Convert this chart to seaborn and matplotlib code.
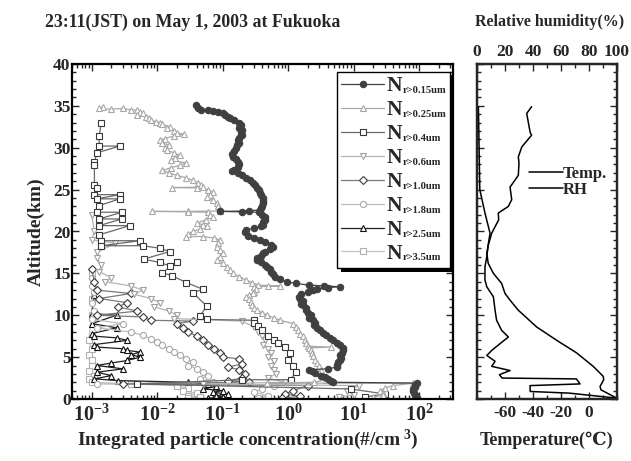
import numpy as np
import pandas as pd
import matplotlib
matplotlib.use("Agg")
import matplotlib.pyplot as plt
import seaborn as sns
from matplotlib.patches import Rectangle
from matplotlib.ticker import MultipleLocator, NullFormatter

sns.set_style("ticks")
plt.rcParams['font.family'] = ['Liberation Serif', 'DejaVu Serif', 'Noto Sans CJK JP']
plt.rcParams['font.weight'] = 'bold'
plt.rcParams['axes.unicode_minus'] = False
plt.rcParams['mathtext.fontset'] = 'custom'
plt.rcParams['mathtext.rm'] = 'Liberation Serif:bold'
plt.rcParams['mathtext.bf'] = 'Liberation Serif:bold'
plt.rcParams['mathtext.it'] = 'Liberation Serif:bold:italic'

# ---------------- data ----------------
alt_015 = [35.1, 34.8, 34.5, 34.5, 34.4, 34.3, 34.1, 33.9, 33.7, 33.5, 33.3, 33.0, 32.7, 32.4, 32.1,
           31.8, 31.5, 31.2, 30.9, 30.6, 30.3, 30.0, 29.6, 29.2, 28.9, 28.6, 28.3, 28.0, 27.7, 27.4,
           27.2, 27.0, 26.7, 26.4, 26.1, 25.8, 25.5, 25.2, 24.9, 24.6, 24.3, 24.0, 23.7, 23.4, 23.1,
           22.8, 22.6, 22.45, 22.4, 22.35, 22.3, 22.0, 21.7, 21.4, 21.1, 20.8, 20.6, 20.4, 20.2, 19.9,
           19.5, 19.2, 19.0, 18.7, 18.4, 18.2, 17.9, 17.6, 17.4, 17.1, 16.8, 16.6, 16.3, 16.0, 15.8,
           15.5, 15.2, 14.9, 14.6, 14.3, 14.0, 13.8, 13.6, 13.5, 13.4, 13.3, 13.1, 13.0, 12.8, 12.5,
           12.2, 12.0, 11.7, 11.4, 11.2, 10.9, 10.6, 10.3, 10.0, 9.7, 9.4, 9.1, 8.8, 8.5, 8.2,
           7.9, 7.6, 7.3, 7.0, 6.7, 6.4, 6.1, 5.8, 5.5, 5.2, 4.9, 4.7, 4.4, 4.1, 3.8,
           3.6, 3.5, 3.3, 3.1, 2.8, 2.6, 2.4, 2.2, 2.0, 1.9, 1.7, 1.4, 1.2, 1.0, 0.7,
           0.5, 0.3, 0.1]
n_015 = [0.039, 0.042, 0.047, 0.060, 0.070, 0.085, 0.10, 0.11, 0.12, 0.13, 0.15, 0.18, 0.19, 0.18, 0.20,
         0.19, 0.20, 0.18, 0.17, 0.18, 0.165, 0.16, 0.15, 0.14, 0.145, 0.16, 0.17, 0.18, 0.17, 0.15,
         0.14, 0.17, 0.20, 0.23, 0.26, 0.29, 0.31, 0.33, 0.36, 0.37, 0.39, 0.41, 0.42, 0.42, 0.40,
         0.38, 0.37, 0.25, 0.09, 0.20, 0.36, 0.40, 0.45, 0.44, 0.42, 0.41, 0.38, 0.30, 0.23, 0.22,
         0.24, 0.30, 0.37, 0.45, 0.55, 0.59, 0.52, 0.45, 0.42, 0.38, 0.34, 0.33, 0.38, 0.44, 0.48,
         0.52, 0.55, 0.58, 0.62, 0.75, 0.95, 1.3, 2.1, 3.5, 6.2, 4.0, 2.8, 2.4, 2.0, 1.6,
         1.45, 1.5, 1.7, 1.6, 1.7, 1.85, 1.9, 2.0, 2.2, 2.1, 2.4, 2.6, 2.5, 2.8, 3.1,
         3.4, 3.8, 4.3, 4.9, 5.5, 6.3, 6.9, 7.0, 6.6, 6.3, 6.5, 6.2, 5.8, 5.6, 5.5,
         4.0, 2.1, 2.3, 2.6, 3.2, 3.6, 4.0, 4.5, 4.9, 93, 88, 86, 80, 82, 85,
         88, 90, 92]

alt_025 = [34.9, 34.7, 34.6, 34.7, 34.5, 34.5, 34.3, 34.1, 33.9, 33.7, 33.5, 33.3, 33.1, 33.0, 32.8,
           32.5, 32.3, 32.0, 31.8, 31.6, 31.4, 31.1, 30.9, 30.6, 30.3, 30.0, 29.7, 29.4, 29.1, 28.8,
           28.5, 28.2, 27.9, 27.6, 27.3, 27.0, 26.7, 26.4, 26.1, 25.8, 25.5, 25.3, 25.25, 25.2, 25.0,
           24.7, 24.4, 24.1, 23.8, 23.4, 23.0, 22.7, 22.45, 22.4, 22.4, 22.35, 22.3, 22.0, 21.7, 21.4,
           21.0, 20.8, 20.6, 20.3, 20.0, 19.7, 19.4, 19.4, 19.2, 19.0, 18.6, 18.2, 17.8, 17.4, 17.0,
           16.6, 16.2, 15.8, 15.4, 15.0, 14.6, 14.2, 13.9, 13.6, 13.5, 13.45, 13.4, 13.1, 12.8, 12.6,
           12.4, 12.2, 11.9, 11.6, 11.2, 10.9, 10.6, 10.3, 10.0, 9.7, 9.4, 9.0, 8.6, 8.2, 7.8,
           7.5, 7.1, 6.7, 6.3, 6.2, 6.1, 5.8, 5.5, 5.1, 4.7, 4.3, 3.9, 3.5, 3.1, 2.7,
           2.3, 2.0, 1.9, 1.88, 1.6, 1.3, 1.0, 0.7, 0.5, 0.2]
n_025 = [0.0015, 0.0013, 0.0020, 0.0030, 0.0040, 0.0050, 0.0055, 0.0060, 0.0050, 0.0068, 0.0075, 0.0080, 0.0095, 0.011, 0.012,
         0.0155, 0.014, 0.018, 0.020, 0.026, 0.018, 0.013, 0.011, 0.012, 0.015, 0.013, 0.014, 0.018, 0.022, 0.019,
         0.016, 0.028, 0.022, 0.016, 0.012, 0.015, 0.020, 0.028, 0.035, 0.042, 0.046, 0.050, 0.017, 0.040, 0.060,
         0.071, 0.065, 0.058, 0.070, 0.081, 0.085, 0.090, 0.091, 0.030, 0.0083, 0.030, 0.060, 0.065, 0.071, 0.055,
         0.041, 0.050, 0.058, 0.045, 0.035, 0.030, 0.028, 0.050, 0.075, 0.091, 0.085, 0.081, 0.090, 0.10, 0.090,
         0.081, 0.10, 0.115, 0.13, 0.145, 0.18, 0.23, 0.28, 0.35, 0.74, 0.50, 0.30, 0.32, 0.30, 0.29,
         0.25, 0.23, 0.25, 0.27, 0.28, 0.30, 0.33, 0.40, 0.48, 0.60, 0.75, 1.2, 1.3, 1.4, 1.5,
         1.7, 1.8, 1.9, 2.0, 4.5, 2.1, 2.2, 2.3, 2.4, 2.6, 2.8, 3.0, 3.2, 3.0, 3.4,
         3.8, 2.5, 0.48, 81, 40, 30, 25, 28, 28, 20]

alt_04 = [33.0, 31.4, 30.2, 30.2, 29.4, 28.3, 27.9, 25.6, 25.2, 24.4, 24.4, 23.9, 23.9, 23.1, 22.3,
          22.3, 21.5, 21.5, 20.7, 20.7, 19.6, 18.9, 18.9, 18.3, 18.3, 18.0, 17.6, 16.7, 16.3, 15.9,
          16.3, 15.1, 14.7, 13.9, 13.1, 12.7, 11.1, 9.9, 9.5, 9.4, 9.1, 8.7, 8.2, 7.5, 7.1,
          6.7, 6.2, 5.5, 4.7, 4.0, 3.2, 2.3, 2.3, 1.8, 1.2, 0.6, 0.25]
n_04 = [0.0014, 0.0013, 0.0013, 0.0027, 0.0012, 0.0011, 0.0011, 0.0011, 0.0012, 0.0011, 0.0027, 0.0012, 0.0027, 0.0013, 0.0012,
        0.0029, 0.0013, 0.0029, 0.0013, 0.0038, 0.0013, 0.0014, 0.0054, 0.0014, 0.0060, 0.011, 0.0155, 0.0062, 0.011, 0.0155,
        0.020, 0.012, 0.017, 0.028, 0.050, 0.035, 0.057, 0.045, 0.057, 0.30, 0.30, 0.35, 0.40, 0.50, 0.60,
        0.70, 0.90, 1.05, 1.0, 1.2, 1.3, 1.1, 0.20, 0.005, 9.0, 30, 15]

alt_06 = [22.0, 20.0, 19.0, 18.6, 17.5, 16.8, 16.0, 15.2, 14.5, 14.0, 13.5, 13.0, 12.5, 12.0, 11.5,
          11.0, 10.5, 10.0, 9.6, 9.3, 8.6, 8.0, 7.5, 7.0, 6.5, 6.0, 5.5, 5.0, 4.5, 4.0,
          3.5, 3.0, 2.5, 2.0, 1.8, 1.6, 1.0, 0.5, 0.2]
n_06 = [0.0010, 0.0011, 0.0010, 0.0023, 0.0012, 0.0012, 0.0014, 0.0013, 0.0020, 0.0016, 0.004, 0.006, 0.0045, 0.008, 0.011,
        0.009, 0.015, 0.020, 0.018, 0.20, 0.30, 0.35, 0.40, 0.45, 0.42, 0.50, 0.55, 0.50, 0.60, 0.55,
        0.60, 0.65, 0.50, 0.90, 0.05, 12, 8, 10, 6]

alt_10 = [15.5, 14.0, 13.0, 12.6, 12.0, 11.5, 11.0, 10.5, 10.0, 9.8, 9.4, 9.3, 9.0, 8.5, 8.0,
          7.5, 7.0, 6.5, 6.0, 5.5, 5.0, 4.8, 4.2, 3.8, 3.5, 3.0, 2.5, 2.2, 2.0, 1.8,
          1.6, 1.0, 0.6, 0.3, 0.1]
n_10 = [0.0010, 0.0011, 0.0012, 0.004, 0.0013, 0.0035, 0.0025, 0.005, 0.0012, 0.006, 0.008, 0.035, 0.020, 0.025, 0.030,
        0.040, 0.050, 0.060, 0.075, 0.090, 0.10, 0.18, 0.20, 0.12, 0.18, 0.22, 0.20, 0.12, 0.25, 0.003,
        2.0, 1.2, 0.9, 1.5, 0.8]

alt_18 = [14.5, 13.5, 12.8, 11.5, 10.5, 9.5, 9.0, 8.5, 8.0, 7.6, 7.2, 6.8, 6.4, 6.0, 5.6,
          5.2, 4.8, 4.4, 4.0, 3.6, 3.2, 2.8, 2.4, 2.0, 1.8, 1.6, 1.2, 0.8, 0.4, 0.1]
n_18 = [0.0010, 0.0010, 0.0011, 0.0010, 0.0011, 0.0010, 0.003, 0.0012, 0.004, 0.006, 0.008, 0.010, 0.012, 0.015, 0.018,
        0.022, 0.028, 0.035, 0.030, 0.040, 0.050, 0.060, 0.045, 0.070, 0.0012, 0.6, 0.4, 0.3, 0.5, 0.35]

alt_25 = [12.4, 10.2, 10.0, 9.0, 8.5, 7.8, 7.5, 7.3, 7.0, 6.5, 6.2, 6.0, 5.8, 5.6, 5.3,
          5.0, 4.6, 4.3, 4.0, 3.6, 3.2, 2.8, 2.4, 2.2, 2.0, 1.8, 1.5, 1.2, 1.0, 0.8,
          0.6, 0.4, 0.2, 0.1]
n_25 = [0.0011, 0.0010, 0.0024, 0.0010, 0.0024, 0.0010, 0.0011, 0.0024, 0.0035, 0.0011, 0.0012, 0.0030, 0.0035, 0.0055, 0.0040,
        0.0055, 0.0035, 0.0020, 0.0012, 0.0030, 0.0012, 0.0020, 0.0011, 0.0025, 0.030, 0.060, 0.080, 0.050, 0.10, 0.070,
        0.12, 0.08, 0.10, 0.06]

alt_35 = [15.0, 12.0, 10.0, 7.0, 6.0, 5.2, 4.6, 4.0, 3.4, 2.8, 2.4, 2.0, 1.8, 1.6, 1.3,
          1.0, 0.7, 0.4, 0.2, 0.1]
n_35 = [0.0010, 0.0010, 0.0010, 0.0009, 0.0010, 0.0009, 0.0010, 0.0010, 0.0009, 0.0011, 0.0009, 0.0010, 0.004, 0.020, 0.030,
        0.025, 0.040, 0.030, 0.045, 0.030]

size_labels = ["0.15", "0.25", "0.4", "0.6", "1.0", "1.8", "2.5", "3.5"]

alt_temp = [34.9, 34.1, 31.8, 31.5, 30.1, 28.9, 28.2, 26.7, 25.3, 23.8, 23.0, 22.2, 21.4, 19.8, 18.4,
            17.4, 16.2, 15.0, 13.8, 12.6, 11.8, 10.6, 8.6, 7.0, 5.5, 3.9, 2.7, 2.3, 1.5, 1.1, 0.1]
temp = [-41, -44.5, -42, -41, -48, -50.5, -50, -50.5, -56.4, -55.2, -57.6, -64.8, -64.5, -69.5, -71.9,
        -73, -72, -68.3, -62.4, -60, -56.4, -50.5, -37.4, -23, -8.8, 3, 10.2, 10.5, 7.9, 8.5, 19.8]

alt_rh = [34.9, 30.0, 25.0, 22.2, 19.8, 18.4, 17.0, 15.8, 14.2, 13.4, 12.2, 10.6, 9.4, 8.2, 7.4,
          6.6, 5.8, 5.2, 4.5, 3.9, 3.4, 2.9, 2.5, 2.4, 1.8, 1.6, 0.9, 0.7, 0.1]
rh = [1, 1.5, 2, 5.7, 9.3, 8, 7, 5.7, 5.7, 7, 11.7, 12.9, 14, 17.6, 22.4,
      16.4, 10.5, 7, 12.9, 10.5, 23.6, 16, 18, 71, 73.6, 37.9, 38, 66, 100]

# ---------------- styling ----------------
styles = {
    "0.15": dict(color="#404040", marker="o", mfc="#404040", mec="#404040", ms=4.6),
    "0.25": dict(color="#a8a8a8", marker="^", mfc="white", mec="#a8a8a8", ms=5.0),
    "0.4":  dict(color="#686868", marker="s", mfc="white", mec="#383838", ms=4.3),
    "0.6":  dict(color="#b4b4b4", marker="v", mfc="white", mec="#a0a0a0", ms=5.0),
    "1.0":  dict(color="#7a7a7a", marker="D", mfc="white", mec="#3a3a3a", ms=3.8),
    "1.8":  dict(color="#bcbcbc", marker="o", mfc="white", mec="#a8a8a8", ms=4.4),
    "2.5":  dict(color="#202020", marker="^", mfc="white", mec="#101010", ms=5.0),
    "3.5":  dict(color="#c4c4c4", marker="s", mfc="white", mec="#b0b0b0", ms=4.3),
}
series = {
    "0.15": (alt_015, n_015), "0.25": (alt_025, n_025), "0.4": (alt_04, n_04),
    "0.6": (alt_06, n_06), "1.0": (alt_10, n_10), "1.8": (alt_18, n_18),
    "2.5": (alt_25, n_25), "3.5": (alt_35, n_35),
}

W, H = 631, 461
fig = plt.figure(figsize=(W / 100, H / 100), dpi=100)
ax = fig.add_axes([72 / W, 62 / H, 381 / W, 335 / H])
ax2 = fig.add_axes([477 / W, 62 / H, 140 / W, 335 / H])

order = ["3.5", "2.5", "1.8", "1.0", "0.6", "0.4", "0.25", "0.15"]
for key in order:
    a, n = series[key]
    df = pd.DataFrame({"alt": a, "n": n})
    st = styles[key]
    sns.lineplot(data=df, x="n", y="alt", sort=False, estimator=None, ax=ax,
                 color=st["color"], marker=st["marker"], markersize=st["ms"],
                 markerfacecolor=st["mfc"], markeredgecolor=st["mec"], markeredgewidth=0.8,
                 linewidth=0.9, label=key)

ax.set_xscale("log")
ax.set_xlim(5e-4, 330)
ax.set_ylim(0, 40)
ax.set_xticks([1e-3, 1e-2, 1e-1, 1e0, 1e1, 1e2])
ax.set_xticklabels([r"$\mathbf{10^{-3}}$", r"$\mathbf{10^{-2}}$", r"$\mathbf{10^{-1}}$",
                    r"$\mathbf{10^{0}}$", r"$\mathbf{10^{1}}$", r"$\mathbf{10^{2}}$"], fontsize=14.5)
ax.yaxis.set_major_locator(MultipleLocator(5))
ax.yaxis.set_minor_locator(MultipleLocator(1))
for a_ in (ax, ax2):
    a_.tick_params(which="both", direction="in", top=True, right=True, width=1.0)
    a_.tick_params(which="major", length=5)
    a_.tick_params(which="minor", length=2.8)
    for s in a_.spines.values():
        s.set_linewidth(1.6)
        s.set_color("black")
ax.tick_params(axis="y", labelsize=12.5, pad=1)
ax.tick_params(axis="x", pad=4)
for t in ax.get_yticklabels():
    t.set_fontweight("bold")
ax.set_xlabel(r"Integrated particle concentration(#/cm$^{\ 3}$)", fontsize=14, fontweight="bold")
ax.xaxis.set_label_coords(0.462, -0.085)
ax.set_ylabel("Altitude(km)", fontsize=14, fontweight="bold", labelpad=6)

h, l = ax.get_legend_handles_labels()
hd = {lab: hh for hh, lab in zip(h, l)}
leg = ax.legend([hd[k] for k in size_labels], ["N"] * len(size_labels),
                loc="upper left", bbox_to_anchor=((337 - 72) / 381, (399 - 72) / 335),
                fontsize=15.5, frameon=False,
                handlelength=2.0, handletextpad=0.1, labelspacing=0.18, borderpad=0.2,
                borderaxespad=0.0)
leg.set_zorder(6)

# right panel
sns.lineplot(x=temp, y=alt_temp, sort=False, estimator=None, ax=ax2, color="black",
             linewidth=1.1, label="Temp.")
ax2t = ax2.twiny()
sns.lineplot(x=rh, y=alt_rh, sort=False, estimator=None, ax=ax2t, color="black",
             linewidth=1.1, label="RH")
ax2.set_xlim(-80, 20)
ax2.set_ylim(0, 40)
ax2t.set_xlim(0, 100)
ax2.set_xticks([-60, -40, -20, 0])
ax2.xaxis.set_minor_locator(MultipleLocator(10))
ax2.yaxis.set_major_locator(MultipleLocator(5))
ax2.yaxis.set_minor_locator(MultipleLocator(1))
ax2.yaxis.set_major_formatter(NullFormatter())
ax2.tick_params(axis="x", labelsize=12.5, pad=4)
ax2t.set_xticks([0, 20, 40, 60, 80, 100])
ax2t.xaxis.set_minor_locator(MultipleLocator(10))
ax2t.tick_params(which="both", direction="in", labelsize=12.5, pad=3, width=1.0)
ax2t.tick_params(which="major", length=5)
ax2t.tick_params(which="minor", length=2.8)
for s in ax2t.spines.values():
    s.set_linewidth(1.6)
for t in ax2.get_xticklabels() + ax2t.get_xticklabels():
    t.set_fontweight("bold")
ax2.set_xlabel("Temperature(℃)", fontsize=13, fontweight="bold", labelpad=8)
ax2t.set_xlabel("")
ax2.set_ylabel("")
if ax2.get_legend():
    ax2.get_legend().remove()
if ax2t.get_legend():
    ax2t.get_legend().remove()
h1, l1 = ax2.get_legend_handles_labels()
h2, l2 = ax2t.get_legend_handles_labels()
ax2t.legend(h1 + h2, l1 + l2, loc="upper left", bbox_to_anchor=(0.35, 0.705), frameon=False,
            fontsize=12, handlelength=2.0, handletextpad=0.0, labelspacing=0.0,
            borderaxespad=0, borderpad=0.2)

fig.text(45 / W, 1 - 22 / H, "23:11(JST) on May 1, 2003 at Fukuoka", fontsize=12.8,
         fontweight="bold", ha="left", va="center")
fig.text(550 / W, 1 - 22 / H, "Relative humidity(%)", fontsize=11.5,
         fontweight="bold", ha="center", va="center")

# legend subscripts and the framed box with a solid shadow
fig.canvas.draw()
renderer = fig.canvas.get_renderer()
probe = fig.text(0.5, 0.5, "N", fontsize=15.5, fontweight="bold", va="baseline")
desc = 0.5 * H - probe.get_window_extent(renderer).y0
probe.remove()
right = 0
for t, key in zip(leg.get_texts(), size_labels):
    bb = t.get_window_extent(renderer)
    st_ = fig.text((bb.x1 + 0.5) / W, (bb.y0 + desc - 1.5) / H, "r>" + key + "um",
                   fontsize=7.6, fontweight="bold", ha="left", va="baseline", zorder=10)
    right = max(right, st_.get_window_extent(renderer).x1)
lb = leg.get_window_extent(renderer)
x0, y0, x1, y1 = lb.x0, lb.y0, right + 4, lb.y1
ax.add_patch(Rectangle((x0 + 3.5, y0 - 3.5), x1 - x0, y1 - y0, transform=None,
                       facecolor="black", edgecolor="none", zorder=4.4, clip_on=False))
ax.add_patch(Rectangle((x0, y0), x1 - x0, y1 - y0, transform=None,
                       facecolor="white", edgecolor="black", linewidth=1.0, zorder=4.5,
                       clip_on=False))

fig.savefig("out.png", dpi=100)
